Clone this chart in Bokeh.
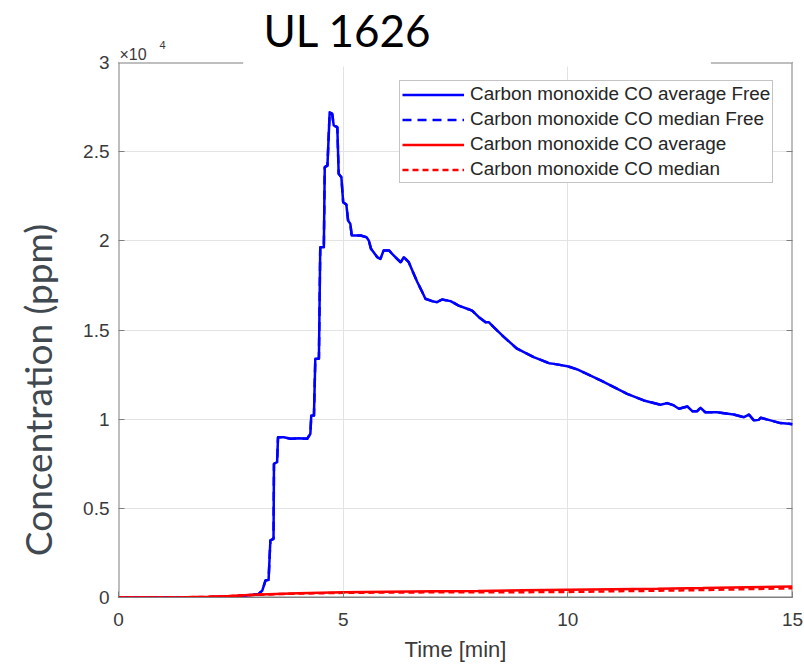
from bokeh.plotting import figure
from bokeh.models import (Range1d, FixedTicker, LinearAxis, Legend, LegendItem, Grid, BoxAnnotation,
                          Label, CustomLabelingPolicy)
from bokeh.embed import file_html
from bokeh.resources import INLINE

# ---- data (time in minutes, concentration in ppm) ----
t_free = [0.0, 1.0, 2.0, 2.5, 3.0, 3.12, 3.2, 3.27, 3.34, 3.38, 3.45, 3.46, 3.53, 3.55, 3.68,
          3.83, 4.01, 4.2, 4.27, 4.29, 4.35, 4.38, 4.46, 4.49, 4.57, 4.59, 4.65, 4.70, 4.756,
          4.79, 4.87, 4.90, 4.96, 5.00, 5.07, 5.11, 5.16, 5.19, 5.39, 5.52, 5.57, 5.62, 5.76,
          5.83, 5.90, 6.02, 6.09, 6.20, 6.28, 6.35, 6.46, 6.57, 6.65, 6.76, 6.83, 6.98, 7.09,
          7.20, 7.39, 7.57, 7.76, 7.87, 8.02, 8.17, 8.24, 8.35, 8.58, 8.87, 9.24, 9.58, 9.69,
          9.99, 10.21, 10.73, 11.32, 11.69, 12.06, 12.21, 12.36, 12.47, 12.66, 12.77, 12.88,
          12.95, 13.06, 13.32, 13.69, 13.92, 14.03, 14.14, 14.25, 14.29, 14.51, 14.73, 14.92, 15.0]
co_avg_free = [0, 0, 20, 60, 150, 200, 390, 950, 990, 3200, 3290, 7500, 7590, 8990, 8990,
               8900, 8930, 8900, 9180, 10200, 10200, 13390, 13390, 19640, 19640, 24130, 24220, 27215, 27120,
               26470, 26370, 23760, 23570, 22170, 22040, 21140, 20950, 20300, 20300, 20200, 20020, 19550, 19080,
               18990, 19460, 19460, 19270, 18990, 18800, 19080, 18800, 18150, 17690, 17130, 16750, 16620, 16560,
               16710, 16620, 16370, 16190, 16090, 15720, 15440, 15440, 15160, 14600, 13950, 13480, 13140, 13100,
               12970, 12790, 12170, 11420, 11050, 10810, 10900, 10770, 10580, 10710, 10450, 10450,
               10640, 10390, 10390, 10260, 10110, 10260, 9930, 9960, 10080, 9930, 9780, 9740, 9720]
co_median_free = list(co_avg_free)

t_ref = [0, 1, 1.5, 2, 2.5, 3, 3.5, 4, 5, 6, 7, 8, 9, 10, 11, 12, 13, 14, 15]
co_avg = [0, 0, 10, 40, 90, 150, 200, 240, 290, 320, 350, 370, 400, 430, 460, 490, 530, 580, 620]
co_median = [0, 0, 10, 40, 90, 140, 190, 220, 260, 280, 290, 300, 300, 310, 350, 380, 420, 470, 520]

x_ticks = [0, 5, 10, 15]
y_ticks = [0, 5000, 10000, 15000, 20000, 25000, 30000]
y_tick_labels = ["0", "0.5", "1", "1.5", "2", "2.5", "3"]
x_lim = (0, 15)
y_lim = (0, 30000)

# ---- layout constants (pixels / positions, not data) ----
FRAME_TOP_PX, AXES_TOP_PX, AXES_BOTTOM_PX = 2, 62, 597
y_end = y_lim[1] * (AXES_BOTTOM_PX - FRAME_TOP_PX) / (AXES_BOTTOM_PX - AXES_TOP_PX)
title_gap = (2.78, 13.18)      # part of the top axes edge hidden behind the title box
title_box_floor = 29780        # lower edge of the white box behind the title

FONT = "Liberation Sans"
AX = "#7f7f7f"
TXT = "#3a3a3a"
NBSP = "\u00a0"

p = figure(width=804, height=664, output_backend="svg", toolbar_location=None, title=None,
           x_range=Range1d(*x_lim), y_range=Range1d(y_lim[0], y_end),
           min_border_left=118, min_border_right=12, min_border_top=FRAME_TOP_PX,
           min_border_bottom=67, x_axis_type=None, y_axis_type=None)
p.outline_line_color = None
p.background_fill_color = "white"
p.border_fill_color = "white"

xt = FixedTicker(ticks=x_ticks)
yt = FixedTicker(ticks=y_ticks)

p.add_layout(Grid(dimension=0, ticker=xt, grid_line_color="#e3e3e3", grid_line_width=1))
p.add_layout(Grid(dimension=1, ticker=yt, grid_line_color="#e3e3e3", grid_line_width=1))

def style_axis(ax, line=True):
    ax.axis_line_color = AX if line else None
    ax.axis_line_width = 1
    ax.major_tick_line_color = AX
    ax.major_tick_in = 6
    ax.major_tick_out = 0
    ax.minor_tick_line_color = None
    ax.major_label_text_font = FONT
    ax.major_label_text_color = TXT
    ax.major_label_text_font_size = "19px"

xb = LinearAxis(ticker=xt)
style_axis(xb)
xb.major_label_standoff = 15
xb.axis_label = "Time [min]"
xb.axis_label_text_font = FONT
xb.axis_label_text_font_size = "22px"
xb.axis_label_text_font_style = "normal"
xb.axis_label_text_color = TXT
xb.axis_label_standoff = 8
p.add_layout(xb, "below")

yl = LinearAxis(ticker=yt, major_label_overrides={v: s for v, s in zip(y_ticks, y_tick_labels)})
style_axis(yl, line=False)
yl.major_label_standoff = 9
yl.axis_label = "Concentration (ppm)" + NBSP * 19
yl.axis_label_text_font = "Lato"
yl.axis_label_text_font_size = "37px"
yl.axis_label_text_font_style = "normal"
yl.axis_label_text_color = "#404850"
yl.axis_label_standoff = 20
p.add_layout(yl, "left")

# right-hand axis: inward ticks only, no labels drawn
yr = LinearAxis(ticker=yt, major_label_policy=CustomLabelingPolicy(code="return new Set()"))
style_axis(yr, line=False)
yr.major_label_text_font_size = "0px"
yr.major_label_standoff = 0
p.add_layout(yr, "right")

# axes box edges (top edge interrupted by the title box)
p.segment(x0=[x_lim[0], title_gap[1], x_lim[0], x_lim[0], x_lim[1]],
          y0=[y_lim[1], y_lim[1], y_lim[0], y_lim[0], y_lim[0]],
          x1=[title_gap[0], x_lim[1], x_lim[1], x_lim[0], x_lim[1]],
          y1=[y_lim[1], y_lim[1], y_lim[0], y_lim[1], y_lim[1]],
          line_color=AX, line_width=2)

r1 = p.line(t_free, co_avg_free, line_color="#0000ff", line_width=2.5, line_join="round")
r2 = p.line(t_free, co_median_free, line_color="#0000ff", line_width=2.5, line_dash="9 6")
r3 = p.line(t_ref, co_avg, line_color="#ff0000", line_width=2.5)
r4 = p.line(t_ref, co_median, line_color="#ff0000", line_width=2.5, line_dash="6 4")
# draw the free average above its median
p.renderers = [p.renderers[0], r2, r1, r4, r3] if len(p.renderers) == 5 else p.renderers

# white area above the axes, and white box behind the title
p.add_layout(BoxAnnotation(bottom=y_lim[1], fill_color="white", fill_alpha=1.0, line_color=None))
p.add_layout(BoxAnnotation(bottom=title_box_floor, left=title_gap[0], right=title_gap[1],
                           fill_color="white", fill_alpha=1.0, line_color=None))

# multiplier and title (screen units measured from the frame's bottom-left)
p.add_layout(Label(x=1, y=AXES_BOTTOM_PX - 54, x_units="screen", y_units="screen", text="×10",
                   text_font=FONT, text_font_size="16px", text_color=TXT,
                   text_baseline="alphabetic", text_align="left"))
p.add_layout(Label(x=41, y=AXES_BOTTOM_PX - 44, x_units="screen", y_units="screen", text="4",
                   text_font=FONT, text_font_size="11px", text_color=TXT,
                   text_baseline="alphabetic", text_align="left"))
p.add_layout(Label(x=145, y=AXES_BOTTOM_PX - 29, x_units="screen", y_units="screen", text="UL 1626",
                   text_font="Lato", text_font_size="44px", text_color="black",
                   text_baseline="alphabetic", text_align="left"))

legend = Legend(items=[
    LegendItem(label="Carbon monoxide CO average Free", renderers=[r1]),
    LegendItem(label="Carbon monoxide CO median Free", renderers=[r2]),
    LegendItem(label="Carbon monoxide CO average", renderers=[r3]),
    LegendItem(label="Carbon monoxide CO median", renderers=[r4]),
], location=(281, AXES_BOTTOM_PX - 183))
legend.padding = 2
legend.spacing = 3
legend.glyph_width = 62
legend.glyph_height = 21
legend.label_height = 21
legend.label_standoff = 6
legend.label_text_font = FONT
legend.label_text_font_size = "18.9px"
legend.label_text_color = "#262626"
legend.border_line_color = "#8a8a8a"
legend.border_line_width = 1
legend.background_fill_color = "white"
legend.background_fill_alpha = 1
p.add_layout(legend)

open("out.html", "w").write(file_html(p, INLINE))
